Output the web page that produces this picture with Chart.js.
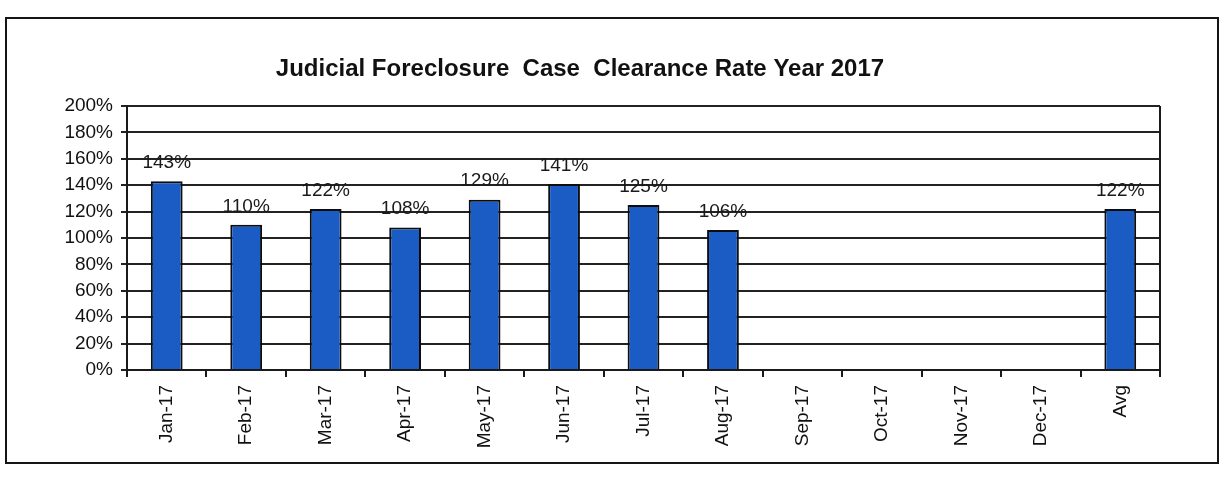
<!DOCTYPE html>
<html>
<head>
<meta charset="utf-8">
<script src="https://cdn.jsdelivr.net/npm/chart.js@4"></script>
<style>
  html, body { margin: 0; padding: 0; background: #fff; }
  #frame {
    position: absolute; left: 5px; top: 17px;
    width: 1210px; height: 443px;
    border: 2px solid #151515;
  }
  #chart { display: block; }
</style>
</head>
<body>
<div id="frame"><canvas id="chart" width="1210" height="443"></canvas></div>
<script>
// chart data
const months = ['Jan-17', 'Feb-17', 'Mar-17', 'Apr-17', 'May-17', 'Jun-17', 'Jul-17', 'Aug-17', 'Sep-17', 'Oct-17', 'Nov-17', 'Dec-17', 'Avg'];
const clearanceRate = [143, 110, 122, 108, 129, 141, 125, 106, null, null, null, null, 122];
const yTicks = [0, 20, 40, 60, 80, 100, 120, 140, 160, 180, 200];
const chartTitle = 'Judicial Foreclosure  Case  Clearance Rate Year 2017';

const FONT = '"Liberation Sans", Arial, sans-serif';

// title drawn by hand so it can sit a little left of centre like the scan
const titlePlugin = {
    id: 'titleText',
    afterDraw(chart) {
        const ctx = chart.ctx;
        ctx.save();
        ctx.font = 'bold 24px ' + FONT;
        ctx.fillStyle = '#111';
        ctx.textAlign = 'center';
        ctx.textBaseline = 'middle';
        ctx.fillText(chartTitle, 573, 50);
        ctx.restore();
    }
};

// value labels above each bar + right edge of plot
const valueLabels = {
    id: 'valueLabels',
    afterDatasetsDraw(chart) {
        const ctx = chart.ctx;
        const meta = chart.getDatasetMeta(0);
        ctx.save();
        ctx.font = '19px ' + FONT;
        ctx.fillStyle = '#1a1a1a';
        ctx.textAlign = 'center';
        ctx.textBaseline = 'bottom';
        meta.data.forEach((bar, i) => {
            const v = clearanceRate[i];
            if (v == null) return;
            ctx.fillText(v + '%', bar.x, bar.y - 9);
        });
        const a = chart.chartArea;
        ctx.strokeStyle = '#1a1a1a';
        ctx.lineWidth = 2;
        ctx.beginPath();
        ctx.moveTo(a.right, a.top);
        ctx.lineTo(a.right, a.bottom);
        ctx.stroke();
        ctx.restore();
    }
};

new Chart(document.getElementById('chart'), {
    type: 'bar',
    data: {
        labels: months,
        datasets: [{
            data: clearanceRate,
            backgroundColor: '#1b5cc4',
            borderColor: '#0d0d0d',
            borderWidth: 2,
            barPercentage: 0.40,
            categoryPercentage: 1
        }]
    },
    options: {
        responsive: false,
        animation: false,
        layout: { padding: { top: 87, right: 57, left: 0, bottom: 0 } },
        plugins: {
            legend: { display: false },
            tooltip: { enabled: false },
            title: { display: false }
        },
        scales: {
            y: {
                min: 0,
                max: 200,
                afterFit(scale) { scale.width = 120; },
                afterBuildTicks(scale) { scale.ticks = yTicks.map(v => ({ value: v })); },
                grid: { color: '#222', lineWidth: 2, tickLength: 6 },
                border: { color: '#1a1a1a', width: 2 },
                ticks: {
                    color: '#111',
                    font: { family: FONT, size: 19 },
                    padding: 8,
                    callback: v => v + '%'
                }
            },
            x: {
                afterFit(scale) { scale.height = 92; },
                grid: { drawOnChartArea: false, color: '#1a1a1a', lineWidth: 2, tickLength: 7, offset: true },
                border: { color: '#1a1a1a', width: 2 },
                ticks: {
                    color: '#111',
                    font: { family: FONT, size: 19 },
                    minRotation: 90,
                    maxRotation: 90,
                    padding: 8
                }
            }
        }
    },
    plugins: [titlePlugin, valueLabels]
});
</script>
</body>
</html>
